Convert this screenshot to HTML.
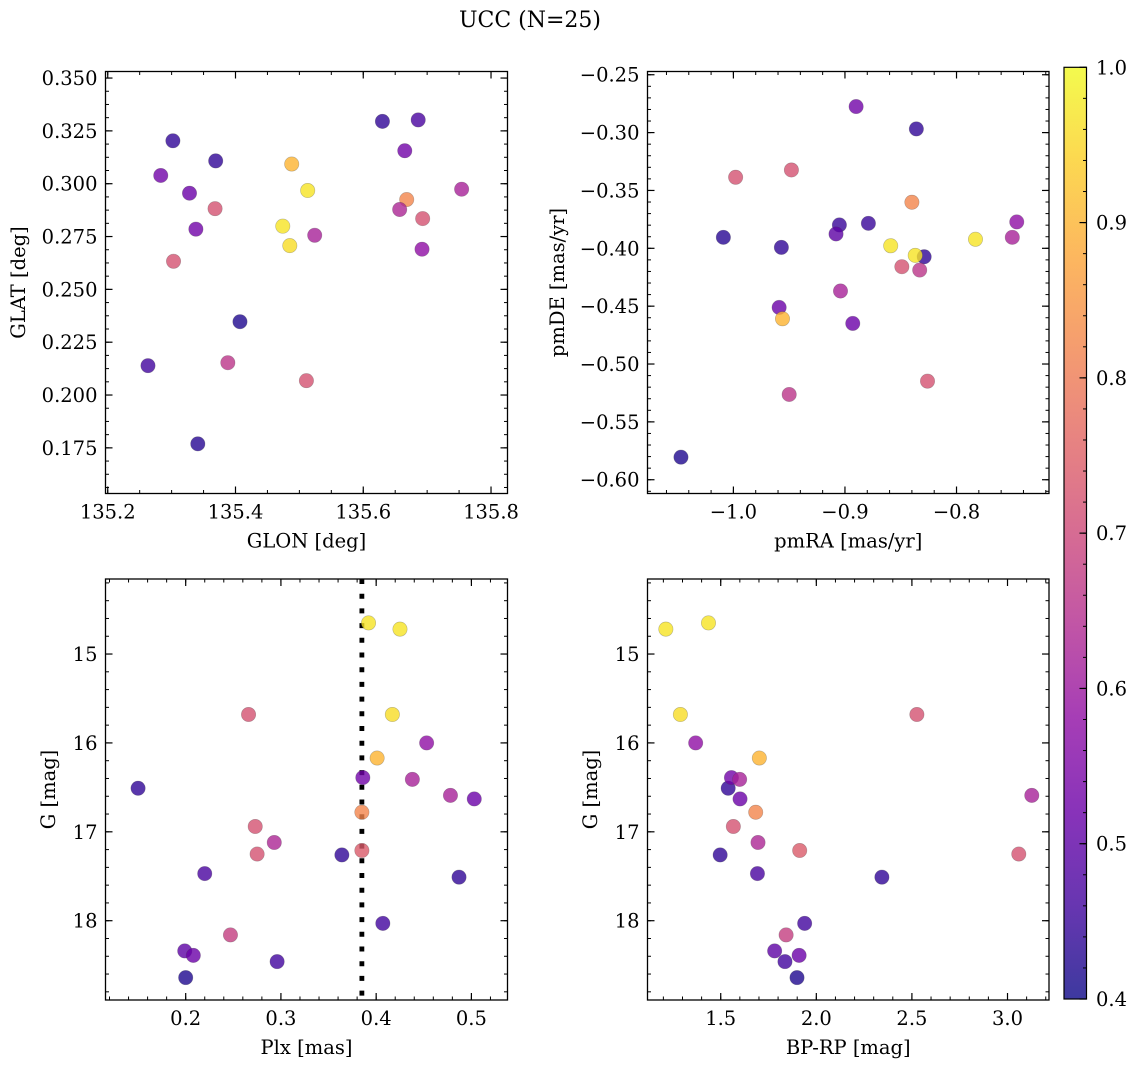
<!DOCTYPE html>
<html><head><meta charset="utf-8"><style>
html,body{margin:0;padding:0;background:#fff;}
svg{display:block;font-family:"DejaVu Serif","Liberation Serif",serif;}
</style></head><body>
<svg id="fig" width="1136" height="1067" viewBox="0 0 1136 1067" xmlns="http://www.w3.org/2000/svg">
<rect width="1136" height="1067" fill="#fff"/>
<text x="530" y="27" font-size="22" text-anchor="middle">UCC (N=25)</text>
</svg>
<script>
// Panel 1: GLON / GLAT
const glon = [135.302,135.369,135.283,135.328,135.368,135.338,135.303,135.407,135.263,135.388,135.341,135.488,135.513,135.474,135.485,135.524,135.511,135.630,135.686,135.665,135.668,135.657,135.693,135.692,135.754];
const glat = [0.3203,0.3108,0.3039,0.2955,0.2882,0.2785,0.2633,0.2347,0.2139,0.2153,0.1769,0.3093,0.2968,0.2799,0.2707,0.2756,0.2068,0.3295,0.3302,0.3156,0.2925,0.2878,0.2835,0.2690,0.2974];
const c1 = [0.44,0.44,0.53,0.52,0.72,0.53,0.72,0.42,0.46,0.66,0.43,0.90,0.97,0.97,0.96,0.62,0.72,0.44,0.47,0.53,0.82,0.63,0.72,0.58,0.62];
// Panel 2: pmRA / pmDE
const pmra = [-1.047,-1.009,-0.998,-0.948,-0.957,-0.959,-0.956,-0.950,-0.890,-0.905,-0.908,-0.879,-0.904,-0.893,-0.836,-0.840,-0.859,-0.849,-0.829,-0.837,-0.833,-0.826,-0.783,-0.746,-0.750];
const pmde = [-0.5805,-0.3905,-0.3386,-0.3323,-0.3992,-0.4511,-0.4609,-0.5263,-0.2775,-0.3798,-0.3876,-0.3784,-0.4369,-0.4649,-0.2968,-0.3602,-0.3978,-0.4159,-0.4073,-0.4061,-0.4188,-0.5148,-0.3922,-0.3772,-0.3905];
const c2 = [0.42,0.43,0.72,0.72,0.44,0.52,0.90,0.66,0.53,0.45,0.50,0.45,0.62,0.52,0.44,0.82,0.97,0.72,0.44,0.97,0.66,0.72,0.97,0.58,0.62];
// Panels 3 & 4: Plx, BP-RP vs G
const gmag = [16.51,18.64,18.34,18.39,17.47,18.16,15.68,16.94,17.25,17.12,18.46,17.26,16.39,16.78,17.21,14.65,14.72,15.68,16.17,18.03,16.41,16.00,16.59,17.51,16.63];
const plx  = [0.150,0.200,0.199,0.208,0.220,0.247,0.266,0.273,0.275,0.293,0.296,0.364,0.386,0.385,0.385,0.392,0.425,0.417,0.401,0.407,0.438,0.453,0.478,0.487,0.503];
const bprp = [1.539,1.899,1.782,1.910,1.692,1.842,2.526,1.566,3.059,1.695,1.836,1.497,1.556,1.683,1.913,1.436,1.213,1.289,1.702,1.939,1.599,1.369,3.127,2.343,1.601];
const c34  = [0.44,0.42,0.50,0.52,0.47,0.68,0.72,0.72,0.72,0.63,0.46,0.44,0.53,0.82,0.74,0.97,0.97,0.96,0.90,0.46,0.62,0.58,0.62,0.44,0.52];
const plxRef = [0.385];
const p1xTicks = [135.2,135.4,135.6,135.8], p1yTicks=[0.175,0.200,0.225,0.250,0.275,0.300,0.325,0.350];
const p2xTicks = [-1.0,-0.9,-0.8], p2yTicks=[-0.60,-0.55,-0.50,-0.45,-0.40,-0.35,-0.30,-0.25];
const p3xTicks = [0.2,0.3,0.4,0.5], gTicks=[15,16,17,18];
const p4xTicks = [1.5,2.0,2.5,3.0];
const cbTicks = [0.4,0.5,0.6,0.7,0.8,0.9,1.0];

const NS="http://www.w3.org/2000/svg", svg=document.getElementById('fig');
const FS=19.5;
function mk(tag,attrs,parent){const e=document.createElementNS(NS,tag);for(const k in attrs)e.setAttribute(k,attrs[k]);(parent||svg).appendChild(e);return e;}
const stops=[[13,8,135],[65,4,157],[106,0,168],[143,13,164],[177,42,144],[204,71,120],[225,100,98],[242,132,75],[252,166,54],[252,206,37],[240,249,33]];
function plasma(t){t=Math.max(0,Math.min(1,t));const f=t*10,i=Math.min(9,Math.floor(f)),r=f-i;const a=stops[i],b=stops[i+1];
 return 'rgb('+[0,1,2].map(k=>Math.round(a[k]+(b[k]-a[k])*r)).join(',')+')';}
function cmap(v){return plasma((v-0.4)/0.6);}
function fmt(v,d){return v.toFixed(d).replace('-','\u2212');}

function panel(o){
 const g=mk('g',{});
 const sx=v=>o.L+(v-o.x0)/(o.x1-o.x0)*(o.R-o.L);
 const sy=v=>o.B-(v-o.y0)/(o.y1-o.y0)*(o.B-o.T);
 const mxs=(o.xt[1]-o.xt[0])/o.xm, mys=(o.yt[1]-o.yt[0])/o.ym;
 for(let v=o.xt[0]-20*mxs;v<=o.xt[o.xt.length-1]+20*mxs;v+=mxs){const x=sx(v);if(x<o.L-0.1||x>o.R+0.1)continue;
  mk('line',{x1:x,x2:x,y1:o.B,y2:o.B-3.5,stroke:'#000','stroke-width':1},g);mk('line',{x1:x,x2:x,y1:o.T,y2:o.T+3.5,stroke:'#000','stroke-width':1},g);}
 for(let v=o.yt[0]-20*mys;v<=o.yt[o.yt.length-1]+20*mys;v+=mys){const y=sy(v);if(y<o.T-0.1||y>o.B+0.1)continue;
  mk('line',{x1:o.L,x2:o.L+3.5,y1:y,y2:y,stroke:'#000','stroke-width':1},g);mk('line',{x1:o.R,x2:o.R-3.5,y1:y,y2:y,stroke:'#000','stroke-width':1},g);}
 o.xt.forEach(v=>{const x=sx(v);
  mk('line',{x1:x,x2:x,y1:o.B,y2:o.B-7,stroke:'#000','stroke-width':1.2},g);mk('line',{x1:x,x2:x,y1:o.T,y2:o.T+7,stroke:'#000','stroke-width':1.2},g);
  const t=mk('text',{x:x,y:o.B+25,'font-size':FS,'text-anchor':'middle'},g);t.textContent=fmt(v,o.xd);
  });
 o.yt.forEach(v=>{const y=sy(v);
  mk('line',{x1:o.L,x2:o.L+7,y1:y,y2:y,stroke:'#000','stroke-width':1.2},g);mk('line',{x1:o.R,x2:o.R-7,y1:y,y2:y,stroke:'#000','stroke-width':1.2},g);
  const t=mk('text',{x:o.L-8,y:y+7,'font-size':FS,'text-anchor':'end'},g);t.textContent=fmt(v,o.yd);
  });
 if(o.vline){o.vline.forEach(v=>{const l=mk('line',{x1:sx(v),x2:sx(v),y1:o.T,y2:o.B,stroke:'#000','stroke-width':4.8,'stroke-dasharray':'5 9.7'},g);
  });}
 o.xs.forEach((xv,i)=>{const c=mk('circle',{cx:sx(xv),cy:sy(o.ys[i]),r:7.2,fill:cmap(o.cs[i]),'fill-opacity':0.8,stroke:'rgba(70,70,70,0.35)','stroke-width':0.6},g);
  });
 const f=mk('rect',{x:o.L,y:o.T,width:o.R-o.L,height:o.B-o.T,fill:'none',stroke:'#000','stroke-width':1.3},g);
 
 const xl=mk('text',{x:(o.L+o.R)/2,y:o.B+54,'font-size':FS,'text-anchor':'middle'},g);xl.textContent=o.xlab;
 
 const yl=mk('text',{x:0,y:0,'font-size':FS,'text-anchor':'middle',transform:'translate('+(o.ylx+7)+','+((o.T+o.B)/2)+') rotate(-90)'},g);yl.textContent=o.ylab;
 
}
panel({name:'panel-glon-glat',L:105.5,R:507.5,T:71.5,B:493.5,x0:135.1965,x1:135.8258,y0:0.1534,y1:0.3531,xt:p1xTicks,yt:p1yTicks,xm:4,ym:4,xd:1,yd:3,xs:glon,ys:glat,cs:c1,xlab:'GLON [deg]',ylab:'GLAT [deg]',ylx:18});
panel({name:'panel-pmra-pmde',L:647.5,R:1049,T:71.5,B:493.5,x0:-1.077,x1:-0.7171,y0:-0.6119,y1:-0.2472,xt:p2xTicks,yt:p2yTicks,xm:5,ym:5,xd:1,yd:2,xs:pmra,ys:pmde,cs:c2,xlab:'pmRA [mas/yr]',ylab:'pmDE [mas/yr]',ylx:557});
panel({name:'panel-plx-g',L:105.5,R:507.5,T:579,B:1000,x0:0.1158,x1:0.5379,y0:18.892,y1:14.156,xt:p3xTicks,yt:gTicks,xm:5,ym:5,xd:1,yd:0,xs:plx,ys:gmag,cs:c34,vline:plxRef,xlab:'Plx [mas]',ylab:'G [mag]',ylx:48});
panel({name:'panel-bprp-g',L:647.5,R:1049,T:579,B:1000,x0:1.117,x1:3.217,y0:18.892,y1:14.156,xt:p4xTicks,yt:gTicks,xm:5,ym:5,xd:1,yd:0,xs:bprp,ys:gmag,cs:c34,xlab:'BP-RP [mag]',ylab:'G [mag]',ylx:590});

// colorbar
const cb=mk('g',{});
const cL=1064,cR=1086.5,cT=67.3,cB=999;
const defs=mk('defs',{},cb);const lg=mk('linearGradient',{id:'pl',x1:0,y1:1,x2:0,y2:0},defs);
for(let i=0;i<=20;i++){mk('stop',{offset:i/20,'stop-color':plasma(i/20),'stop-opacity':0.8},lg);}
mk('rect',{x:cL,y:cT,width:cR-cL,height:cB-cT,fill:'url(#pl)'},cb);
const cy=v=>cB-(v-0.4)/0.6*(cB-cT);
for(let v=0.4;v<=1.0001;v+=0.02){mk('line',{x1:cR,x2:cR-3.5,y1:cy(v),y2:cy(v),stroke:'#000','stroke-width':1},cb);}
cbTicks.forEach(v=>{mk('line',{x1:cR,x2:cR-7,y1:cy(v),y2:cy(v),stroke:'#000','stroke-width':1.2},cb);
 const t=mk('text',{x:1096,y:cy(v)+7,'font-size':FS},cb);t.textContent=v.toFixed(1);
 });
mk('rect',{x:cL,y:cT,width:cR-cL,height:cB-cT,fill:'none',stroke:'#000','stroke-width':1.2},cb);
</script>
</body></html>
